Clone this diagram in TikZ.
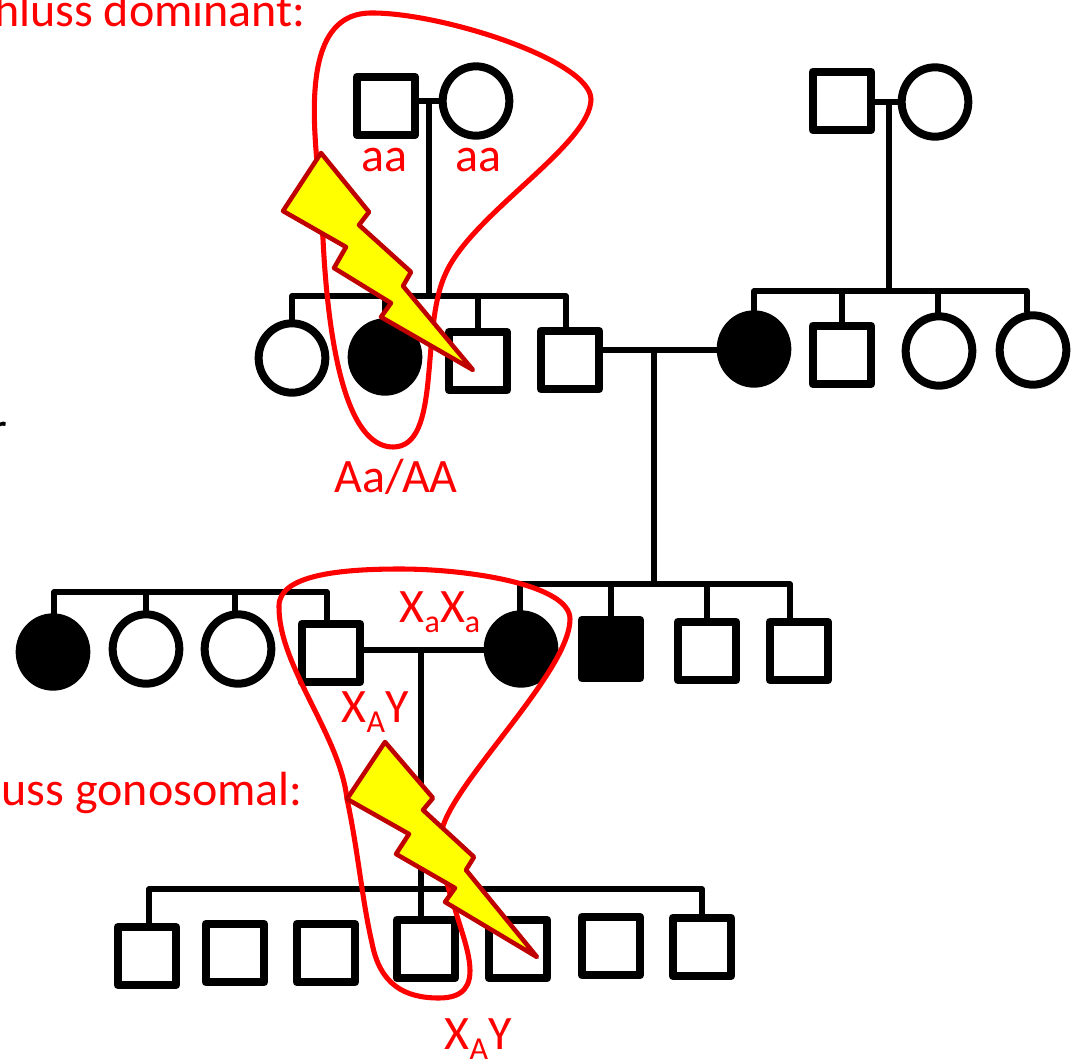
\documentclass[tikz,border=0pt]{standalone}
\usepackage{fontspec}
\setmainfont{Carlito}
\usetikzlibrary{shapes.geometric}
\definecolor{purered}{RGB}{255,0,0}
\definecolor{pureyellow}{RGB}{255,255,0}
\definecolor{boltred}{RGB}{192,0,0}
\newcommand{\lowidx}[1]{\raisebox{-.45ex}{\fontsize{24pt}{24pt}\selectfont #1}}
\tikzset{
  malebox/.style={draw=black,line width=6.6pt,rectangle,line join=round,minimum size=43.5pt,inner sep=0pt,fill=white},
  femalebox/.style={draw=black,line width=6pt,ellipse,minimum width=50pt,minimum height=52pt,inner sep=0pt,fill=white},
  affected/.style={fill=black},
  link/.style={draw=black,line width=4.2pt,line cap=round,line join=round},
  redloop/.style={draw=purered,line width=3.8pt},
  bolt/.style={draw=boltred,line width=3.4pt,fill=pureyellow,line join=round},
  lab/.style={text=purered,font=\fontsize{36pt}{36pt}\selectfont,inner sep=0pt},
}
\begin{document}
\begin{tikzpicture}[x=.75pt,y=-.75pt]
\useasboundingbox (0,0) rectangle (1079,1064);
% generation I
\node[malebox] (m1) at (386,106) {};
\node[femalebox] (f1) at (476,101) {};
\node[malebox] (m2) at (842,101) {};
\node[femalebox] (f2) at (935,102) {};
% generation II
\node[femalebox] (a1) at (292,358) {};
\node[femalebox,affected] (a2) at (385,357) {};
\node[malebox] (a3) at (478,361) {};
\node[malebox] (a4) at (570,360) {};
\node[femalebox,affected] (b1) at (754,349) {};
\node[malebox] (b2) at (842,355) {};
\node[femalebox] (b3) at (939,351) {};
\node[femalebox] (b4) at (1033,350) {};
% generation III
\node[femalebox,affected] (c1) at (53,652) {};
\node[femalebox] (c2) at (146,649) {};
\node[femalebox] (c3) at (238,649) {};
\node[malebox] (c4) at (331,653) {};
\node[femalebox,affected] (d1) at (521,649) {};
\node[malebox,affected] (d2) at (611,649) {};
\node[malebox] (d3) at (707,651) {};
\node[malebox] (d4) at (799,651) {};
% generation IV
\node[malebox] (e1) at (147,956) {};
\node[malebox] (e2) at (235,953) {};
\node[malebox] (e3) at (326,953) {};
\node[malebox] (e4) at (426,949) {};
\node[malebox] (e5) at (518,949) {};
\node[malebox] (e6) at (611,946) {};
\node[malebox] (e7) at (702,947) {};
% junction points
\coordinate (j1) at (429,102);
\coordinate (j2) at (889,102);
\coordinate (j3) at (654,350);
\coordinate (j4) at (421,650);
\coordinate (barAl) at (292,296);
\coordinate (barAr) at (566,296);
\coordinate (barBl) at (754,291);
\coordinate (barBr) at (1027,291);
\coordinate (barCl) at (54,592);
\coordinate (barCr) at (327,592);
\coordinate (barDl) at (520,584);
\coordinate (barDr) at (790,584);
\coordinate (barEl) at (149,889);
\coordinate (barEr) at (702,889);
% couples
\draw[link] (f1.west -| m1.east) -- (f1.west);
\draw[link] (f2.west -| m2.east) -- (f2.west);
\draw[link] (a4.east |- j3) -- (j3) -- (b1.west |- j3);
\draw[link] (c4.east |- j4) -- (j4) -- (d1.west |- j4);
% descents
\draw[link] (j1) -- (j1 |- barAl);
\draw[link] (j2) -- (j2 |- barBl);
\draw[link] (j3) -- (j3 |- barDl);
\draw[link] (j4) -- (j4 |- e4.north);
% sibling bars
\draw[link] (a1.north) -- (barAl) -- (barAr) -- (barAr |- a4.north);
\draw[link] (a2.north) -- (a2.north |- barAl);
\draw[link] (a3.north) -- (a3.north |- barAl);
\draw[link] (b1.north) -- (barBl) -- (barBr) -- (barBr |- b4.north);
\draw[link] (b2.north) -- (b2.north |- barBl);
\draw[link] (barBl -| 938,0) -- (b3.north -| 938,0);
\draw[link] (barCl |- c1.north) -- (barCl) -- (barCr) -- (barCr |- c4.north);
\draw[link] (c2.north) -- (c2.north |- barCl);
\draw[link] (barCl -| 235,0) -- (c3.north -| 235,0);
\draw[link] (barDl |- d1.north) -- (barDl) -- (barDr) -- (barDr |- d4.north);
\draw[link] (d2.north) -- (d2.north |- barDl);
\draw[link] (d3.north) -- (d3.north |- barDl);
\draw[link] (barEl |- e1.north) -- (barEl) -- (barEr) -- (e7.north);
% red outlines
\draw[redloop] (316,150) .. controls (311,85) and (314,14) .. (370,13)
  .. controls (440,12) and (590,60) .. (591,99)
  .. controls (591,145) and (470,215) .. (445,275)
  .. controls (420,330) and (442,447) .. (393,447)
  .. controls (345,447) and (328,340) .. (323,239) -- cycle;
\draw[redloop] (347,799) .. controls (340,735) and (278,665) .. (279,606)
  .. controls (279,575) and (340,569) .. (400,569)
  .. controls (470,569) and (570,585) .. (570,619)
  .. controls (570,670) and (460,775) .. (443,826)
  .. controls (440,860) and (445,880) .. (455,909)
  .. controls (465,945) and (490,998) .. (439,998)
  .. controls (405,998) and (380,985) .. (372,943)
  .. controls (362,900) and (358,850) .. (347,799) -- cycle;
% lightning bolts
\draw[bolt] (321,153) -- (283,211) -- (346,247) -- (334,268) -- (391,303) -- (381,317) -- (473,370)
  -- (403,286) -- (411,272) -- (359,225) -- (369,212) -- cycle;
\draw[bolt] (385,742) -- (347,799) -- (409,834) -- (396,854) -- (455,888) -- (445,902) -- (537,957)
  -- (466,870) -- (474,857) -- (423,810) -- (433,798) -- cycle;
% labels
\node[lab,anchor=base east] (t1) at (306,26) {hluss dominant:};
\node[lab,anchor=base east] (t2) at (303,805) {uss gonosomal:};
\node[lab] (t3) at (384,160) {aa};
\node[lab] (t4) at (478,160) {aa};
\node[lab,anchor=base] (t5) at (396,492) {Aa/AA};
\node[lab,anchor=base] (t6) at (440,622) {X\lowidx{a}X\lowidx{a}};
\node[lab,anchor=base] (t7) at (375,722) {X\lowidx{A}Y};
\node[lab,anchor=base] (t8) at (478,1049) {X\lowidx{A}Y};
\node[lab,text=black,anchor=base east] (t9) at (8,445) {r};
\end{tikzpicture}
\end{document}
